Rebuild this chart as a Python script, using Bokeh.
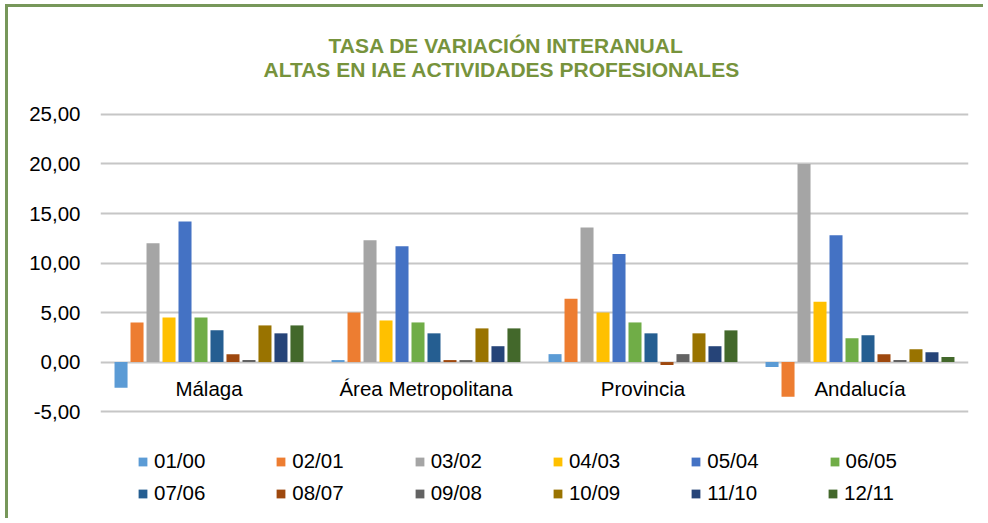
from bokeh.plotting import figure
from bokeh.models import (ColumnDataSource, FactorRange, Range1d, FixedTicker,
                          Title, Legend, LegendItem)
from bokeh.transform import dodge
from bokeh.core.properties import value
from bokeh.embed import file_html
from bokeh.resources import INLINE

# ---------------- data ----------------
categories = ["Málaga", "Área Metropolitana", "Provincia", "Andalucía"]
series_names = ["01/00", "02/01", "03/02", "04/03", "05/04", "06/05",
                "07/06", "08/07", "09/08", "10/09", "11/10", "12/11"]
colors = ["#5B9BD5", "#ED7D31", "#A5A5A5", "#FFC000", "#4472C4", "#70AD47",
          "#255E91", "#9E480E", "#636363", "#997300", "#264478", "#43682B"]

v_01_00 = [-2.6, 0.2, 0.8, -0.5]
v_02_01 = [4.0, 5.0, 6.4, -3.5]
v_03_02 = [12.0, 12.3, 13.6, 20.0]
v_04_03 = [4.5, 4.2, 5.0, 6.1]
v_05_04 = [14.2, 11.7, 10.9, 12.8]
v_06_05 = [4.5, 4.0, 4.0, 2.4]
v_07_06 = [3.2, 2.9, 2.9, 2.7]
v_08_07 = [0.8, 0.2, -0.3, 0.8]
v_09_08 = [0.2, 0.2, 0.8, 0.2]
v_10_09 = [3.7, 3.4, 2.9, 1.3]
v_11_10 = [2.9, 1.6, 1.6, 1.0]
v_12_11 = [3.7, 3.4, 3.2, 0.5]
series_values = [v_01_00, v_02_01, v_03_02, v_04_03, v_05_04, v_06_05,
                 v_07_06, v_08_07, v_09_08, v_10_09, v_11_10, v_12_11]

tick_values = [-5, 0, 5, 10, 15, 20, 25]
tick_labels = ["-5,00", "0,00", "5,00", "10,00", "15,00", "20,00", "25,00"]

title_line1 = "TASA DE VARIACIÓN INTERANUAL"
title_line2 = "ALTAS EN IAE ACTIVIDADES PROFESIONALES"

# ---------------- styling ----------------
FONT = "Liberation Sans"
TXT = "20.5px"
TITLE_COLOR = "#77933C"
BORDER_COLOR = "#77975A"

data = {"cat": categories}
for name, vals in zip(series_names, series_values):
    data[name] = vals
src = ColumnDataSource(data)

p = figure(x_range=FactorRange(factors=categories, range_padding=0),
           y_range=Range1d(-16.1, 25.2),
           width=978, height=514,
           output_backend="svg", toolbar_location=None, title=None,
           min_border_left=92, min_border_right=18,
           min_border_top=105, min_border_bottom=0)

p.styles = {"margin-left": "5px", "margin-top": "4px",
            "border-left": f"3px solid {BORDER_COLOR}",
            "border-top": f"3px solid {BORDER_COLOR}"}

pitch = 0.0737
bw = 0.06
renderers = []
for i, name in enumerate(series_names):
    r = p.vbar(x=dodge("cat", (i - 5.5) * pitch, range=p.x_range),
               top=name, bottom=0, width=bw, source=src,
               fill_color=colors[i], line_color=None)
    renderers.append(r)

# category labels just under the zero line
p.text(x="cat", y=0, text="cat", source=src, text_align="center",
       text_baseline="middle", y_offset=26,
       text_font=value(FONT), text_font_size=TXT, text_color="#000000")

# axes / grid
p.xaxis.visible = False
p.xgrid.grid_line_color = None
p.outline_line_color = None
p.yaxis.ticker = FixedTicker(ticks=tick_values)
p.yaxis.major_label_overrides = dict(zip(tick_values, tick_labels))
p.yaxis.axis_line_color = None
p.yaxis.major_tick_line_color = None
p.yaxis.minor_tick_line_color = None
p.yaxis.major_tick_out = 0
p.yaxis.major_tick_in = 0
p.yaxis.major_label_standoff = 20
p.yaxis.major_label_text_font = FONT
p.yaxis.major_label_text_font_size = TXT
p.yaxis.major_label_text_color = "#000000"
p.ygrid.ticker = FixedTicker(ticks=tick_values)
p.ygrid.grid_line_color = "#C6C6C6"
p.ygrid.grid_line_width = 2

# titles (spacer closest to the frame, then line 2, then line 1)
spacer = Title(text=" ", text_font_size="10px", standoff=20)
t2 = Title(text=title_line2, align="left", offset=163,
           text_font=FONT, text_font_size="21px", text_font_style="bold",
           text_color=TITLE_COLOR, standoff=-2)
t1 = Title(text=title_line1, align="left", offset=228,
           text_font=FONT, text_font_size="21px", text_font_style="bold",
           text_color=TITLE_COLOR, standoff=0)
p.add_layout(spacer, "above")
p.add_layout(t2, "above")
p.add_layout(t1, "above")

# legends: two rows of six, inside the (extended) frame below the axis
def make_legend(idx, loc):
    return Legend(items=[LegendItem(label=series_names[i], renderers=[renderers[i]]) for i in idx],
                  orientation="horizontal", location=loc,
                  glyph_width=11, glyph_height=11, label_standoff=6,
                  spacing=70, padding=0, margin=0,
                  border_line_color=None, background_fill_alpha=0,
                  label_text_font=FONT, label_text_font_size=TXT,
                  label_text_color="#000000", label_height=22)

p.add_layout(make_legend(range(0, 6), (37, 48)))
p.add_layout(make_legend(range(6, 12), (37, 16)))

open("out.html", "w").write(file_html(p, INLINE))
